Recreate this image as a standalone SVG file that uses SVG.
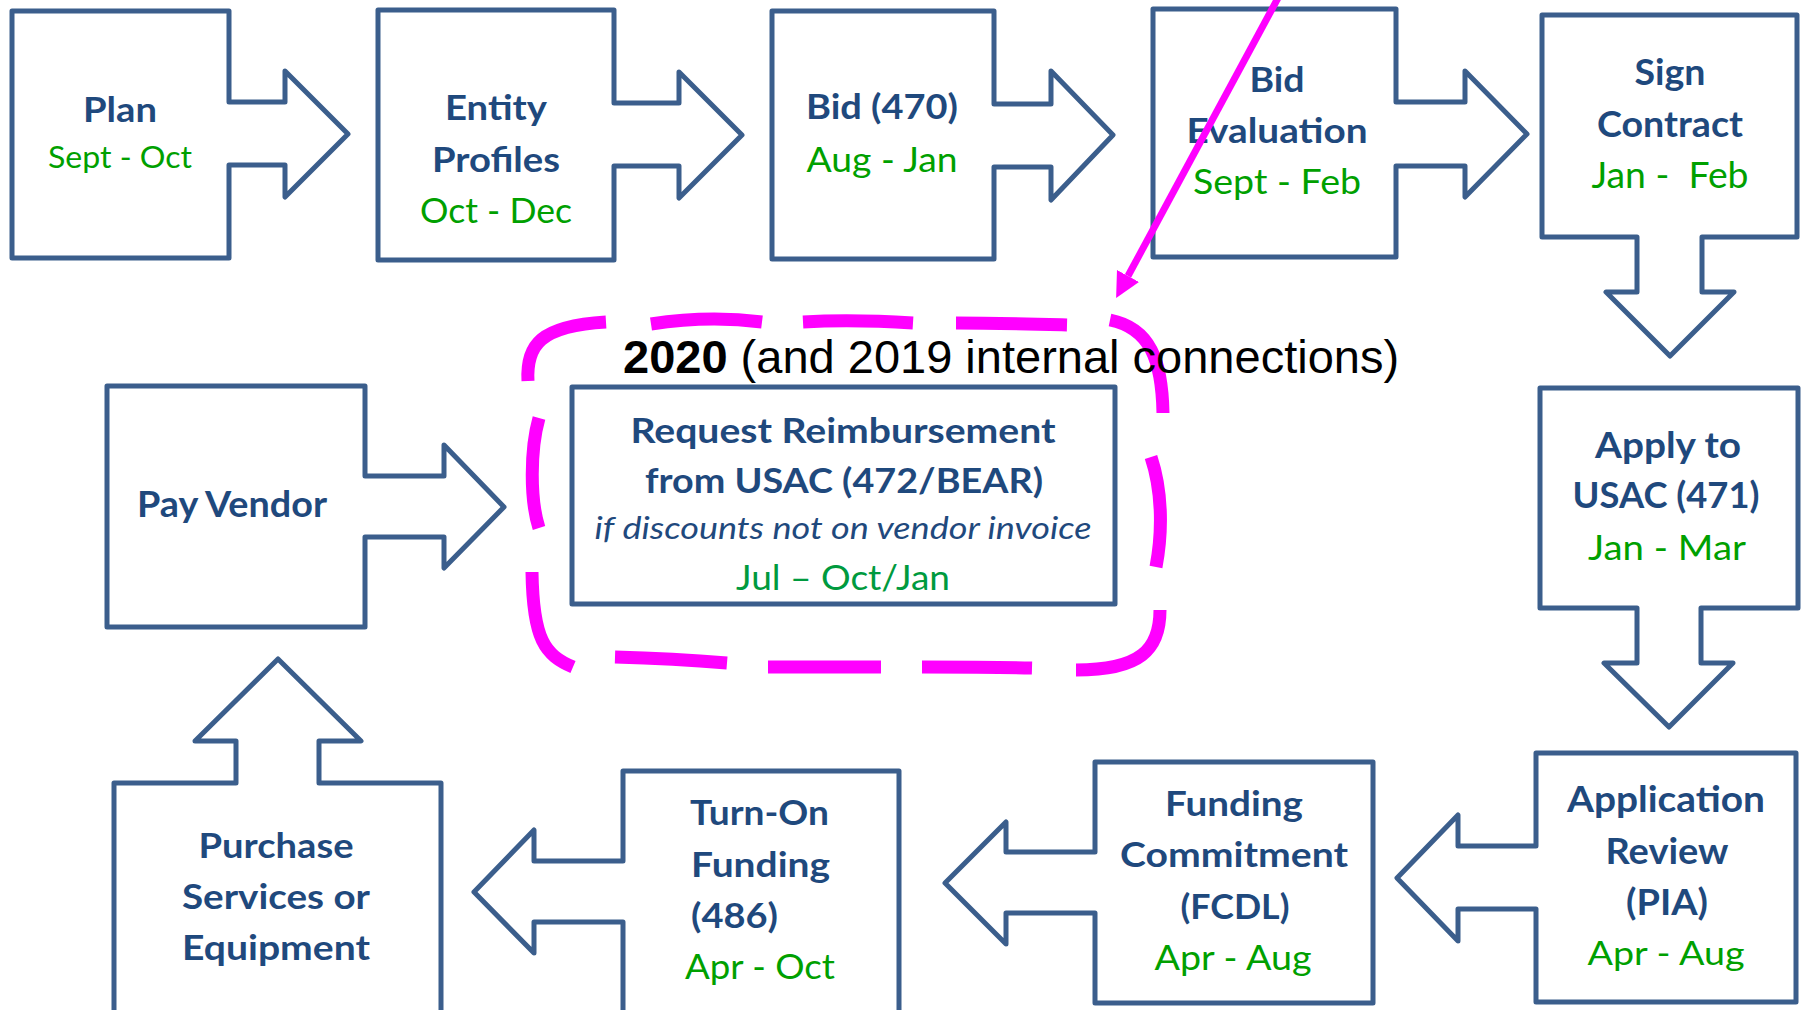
<svg xmlns="http://www.w3.org/2000/svg" width="1805" height="1010" viewBox="0 0 1805 1010">
<style>
.box{fill:#fff;stroke:#3B5E8C;stroke-width:5;stroke-linejoin:round}
.t{font-family:Lato,"Open Sans","Liberation Sans",sans-serif;font-weight:bold;fill:#1F497D;text-anchor:middle}
.g{font-family:Lato,"Open Sans","Liberation Sans",sans-serif;fill:#00A000;text-anchor:middle}
.i{font-family:Lato,"Open Sans","Liberation Sans",sans-serif;font-style:italic;fill:#1F497D;text-anchor:middle}
.s{text-anchor:start}
.dash{fill:none;stroke:#FF00FF;stroke-width:13;stroke-linecap:butt}
</style>
<defs>
<marker id="mh" markerUnits="userSpaceOnUse" markerWidth="26" markerHeight="26" refX="0" refY="12.5" orient="auto">
<path d="M0,0 L25,12.5 L0,25 Z" fill="#FF00FF"/>
</marker>
</defs>
<rect width="1805" height="1010" fill="#fff"/>

<g id="node-plan">
<path class="box" d="M12,11 H229 V102 H285 V71 L348,134 L285,197 V165 H229 V258 H12 Z"/>
<text class="t" x="120" y="122" font-size="35" textLength="74" lengthAdjust="spacingAndGlyphs">Plan</text>
<text class="g" x="120" y="168" font-size="30" textLength="144" lengthAdjust="spacingAndGlyphs">Sept - Oct</text>
</g>

<g id="node-entity">
<path class="box" d="M378,10 H614 V103 H679 V72 L742,135 L679,198 V166 H614 V260 H378 Z"/>
<text class="t" x="496" y="120" font-size="35" textLength="102" lengthAdjust="spacingAndGlyphs">Entity</text>
<text class="t" x="496" y="172" font-size="35" textLength="128" lengthAdjust="spacingAndGlyphs">Profiles</text>
<text class="g" x="496" y="223" font-size="34" textLength="152" lengthAdjust="spacingAndGlyphs">Oct - Dec</text>
</g>

<g id="node-bid">
<path class="box" d="M772,11 H994 V104 H1051 V71 L1113,135 L1051,200 V167 H994 V259 H772 Z"/>
<text class="t" x="882" y="119" font-size="35" textLength="152" lengthAdjust="spacingAndGlyphs">Bid (470)</text>
<text class="g" x="882" y="172" font-size="34" textLength="151" lengthAdjust="spacingAndGlyphs">Aug - Jan</text>
</g>

<g id="node-bid-evaluation">
<path class="box" d="M1153,9 H1396 V102 H1465 V71 L1527,134 L1465,197 V166 H1396 V257 H1153 Z"/>
<text class="t" x="1277" y="92" font-size="35" textLength="55" lengthAdjust="spacingAndGlyphs">Bid</text>
<text class="t" x="1277" y="143" font-size="35" textLength="181" lengthAdjust="spacingAndGlyphs">Evaluation</text>
<text class="g" x="1277" y="194" font-size="35" textLength="168" lengthAdjust="spacingAndGlyphs">Sept - Feb</text>
</g>

<g id="node-sign-contract">
<path class="box" d="M1542,15 H1797 V237 H1702 V292 H1734 L1670,356 L1606,292 H1637 V237 H1542 Z"/>
<text class="t" x="1670" y="85" font-size="36" textLength="71" lengthAdjust="spacingAndGlyphs">Sign</text>
<text class="t" x="1670" y="137" font-size="36" textLength="146" lengthAdjust="spacingAndGlyphs">Contract</text>
<text class="g" x="1670" y="188" font-size="36" textLength="157" lengthAdjust="spacingAndGlyphs" style="white-space:pre">Jan -  Feb</text>
</g>

<g id="node-apply">
<path class="box" d="M1540,388 H1798 V608 H1701 V663 H1733 L1669,727 L1604,663 H1637 V608 H1540 Z"/>
<text class="t" x="1668" y="458" font-size="37" textLength="146" lengthAdjust="spacingAndGlyphs">Apply to</text>
<text class="t" x="1666" y="508" font-size="37" textLength="187" lengthAdjust="spacingAndGlyphs">USAC (471)</text>
<text class="g" x="1667" y="560" font-size="35" textLength="158" lengthAdjust="spacingAndGlyphs">Jan - Mar</text>
</g>

<g id="node-application-review">
<path class="box" d="M1536,753 H1796 V1002 H1536 V909 H1458 V941 L1397,878 L1458,815 V846 H1536 Z"/>
<text class="t" x="1666" y="812" font-size="36" textLength="198" lengthAdjust="spacingAndGlyphs">Application</text>
<text class="t" x="1667" y="864" font-size="36" textLength="123" lengthAdjust="spacingAndGlyphs">Review</text>
<text class="t" x="1667" y="915" font-size="36" textLength="82" lengthAdjust="spacingAndGlyphs">(PIA)</text>
<text class="g" x="1666" y="965" font-size="33" textLength="157" lengthAdjust="spacingAndGlyphs">Apr - Aug</text>
</g>

<g id="node-funding-commitment">
<path class="box" d="M1095,762 H1373 V1003 H1095 V913 H1006 V944 L945,883 L1006,822 V852 H1095 Z"/>
<text class="t" x="1234" y="816" font-size="34" textLength="138" lengthAdjust="spacingAndGlyphs">Funding</text>
<text class="t" x="1234" y="867" font-size="34" textLength="228" lengthAdjust="spacingAndGlyphs">Commitment</text>
<text class="t" x="1235" y="919" font-size="34" textLength="109" lengthAdjust="spacingAndGlyphs">(FCDL)</text>
<text class="g" x="1233" y="970" font-size="35" textLength="157" lengthAdjust="spacingAndGlyphs">Apr - Aug</text>
</g>

<g id="node-turn-on">
<path class="box" d="M623,1020 V922 H534 V953 L474,892 L534,830 V861 H623 V771 H899 V1020 Z"/>
<text class="t s" x="690" y="825" font-size="34" textLength="139" lengthAdjust="spacingAndGlyphs">Turn-On</text>
<text class="t s" x="691" y="877" font-size="34" textLength="139" lengthAdjust="spacingAndGlyphs">Funding</text>
<text class="t s" x="691" y="928" font-size="34" textLength="87" lengthAdjust="spacingAndGlyphs">(486)</text>
<text class="g s" x="685" y="979" font-size="35" textLength="150" lengthAdjust="spacingAndGlyphs">Apr - Oct</text>
</g>

<g id="node-purchase">
<path class="box" d="M114,1020 V783 H236 V741 H195 L278,659 L361,741 H319 V783 H441 V1020 Z"/>
<text class="t" x="276" y="858" font-size="34" textLength="155" lengthAdjust="spacingAndGlyphs">Purchase</text>
<text class="t" x="276" y="909" font-size="34" textLength="188" lengthAdjust="spacingAndGlyphs">Services or</text>
<text class="t" x="276" y="960" font-size="34" textLength="188" lengthAdjust="spacingAndGlyphs">Equipment</text>
</g>

<g id="node-pay-vendor">
<path class="box" d="M107,386 H365 V476 H444 V445 L504,507 L444,568 V537 H365 V627 H107 Z"/>
<text class="t" x="232" y="517" font-size="37" textLength="190" lengthAdjust="spacingAndGlyphs">Pay Vendor</text>
</g>

<g id="highlight-2020">
<path class="dash" d="M528,381 C526,345 540,326 606,322"/>
<path class="dash" d="M651,324 C690,318 730,318 762,322"/>
<path class="dash" d="M803,322 C840,320 880,321 913,323"/>
<path class="dash" d="M956,323 C995,323 1030,324 1067,325"/>
<path class="dash" d="M1110,320 C1150,328 1162,360 1163,413"/>
<path class="dash" d="M1151,457 C1162,490 1163,530 1156,567"/>
<path class="dash" d="M1160,610 C1160,650 1140,670 1076,670"/>
<path class="dash" d="M1032,668 C995,667 960,667 922,667"/>
<path class="dash" d="M881,667 C840,667 805,667 768,667"/>
<path class="dash" d="M727,663 C690,660 650,658 615,657"/>
<path class="dash" d="M573,667 C545,655 533,640 532,572"/>
<path class="dash" d="M539,528 C530,500 530,450 539,418"/>
<text x="623" y="373" font-family="'Liberation Sans',Arial,sans-serif" font-size="47" fill="#000"><tspan font-weight="bold">2020</tspan> (and 2019 internal connections)</text>
</g>

<g id="node-request-reimbursement">
<rect class="box" x="572" y="387" width="543" height="217"/>
<text class="t" x="843" y="443" font-size="34" textLength="425" lengthAdjust="spacingAndGlyphs">Request Reimbursement</text>
<text class="t" x="844" y="493" font-size="34" textLength="398" lengthAdjust="spacingAndGlyphs">from USAC (472/BEAR)</text>
<text class="i" x="843" y="539" font-size="31" textLength="497" lengthAdjust="spacingAndGlyphs">if discounts not on vendor invoice</text>
<text class="g" x="843" y="590" font-size="35" fill="#00A040" style="fill:#009A3E" textLength="214" lengthAdjust="spacingAndGlyphs">Jul – Oct/Jan</text>
</g>

<g id="connectors">
<line x1="1278" y1="-2" x2="1128" y2="276" stroke="#FF00FF" stroke-width="7" marker-end="url(#mh)"/>
</g>
</svg>
